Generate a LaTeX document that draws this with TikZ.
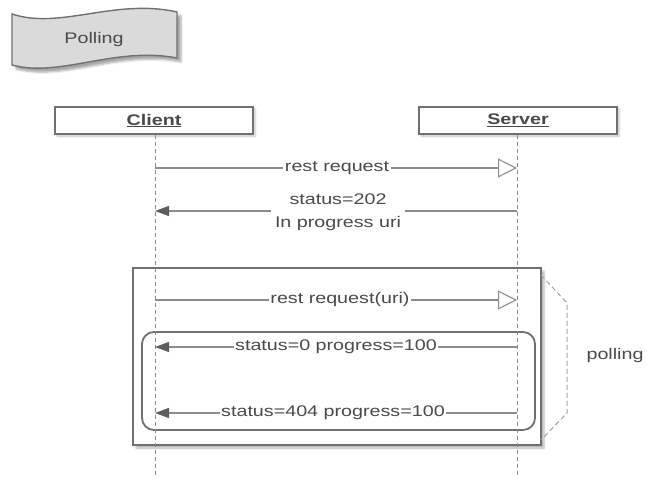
\documentclass[tikz,border=0pt]{standalone}
\usepackage{fontspec}
\setmainfont{Liberation Sans}[FakeStretch=1.28]
\usetikzlibrary{arrows.meta,shadows.blur}
\definecolor{ink}{HTML}{4A4A4A}
\definecolor{wire}{HTML}{8C8C8C}
\definecolor{frame}{HTML}{707070}
\definecolor{paper}{HTML}{DADADA}
\begin{document}
\begin{tikzpicture}[x=1pt,y=-1pt,
  txt/.style={font=\fontsize{15.4}{18}\selectfont, text=ink},
  lbl/.style={txt, fill=white, inner sep=1.5pt},
  actor/.style={draw=frame, line width=1.3pt, fill=white, minimum width=198pt, minimum height=27pt, txt, blur shadow={shadow xshift=2pt, shadow yshift=-2pt, shadow opacity=25, shadow blur steps=4}},
  lifeline/.style={draw=wire, line width=0.9pt, dash pattern=on 4pt off 3pt},
  callmsg/.style={draw=wire, line width=1.1pt, -{Triangle[open, length=19pt, width=19pt, line width=1.1pt]}},
  replymsg/.style={draw=wire, line width=1.1pt, -{Triangle[length=14pt, width=10pt, color=ink!90]}},
]
\useasboundingbox (0,0) rectangle (647,478);

% banner
\path[fill=paper, draw=frame, line width=1.4pt, blur shadow={shadow xshift=4pt, shadow yshift=-4pt, shadow opacity=35}]
  (12,14) .. controls (60,30) and (115,-2) .. (177,12)
  -- (177,58) .. controls (115,46) and (60,78) .. (12,65) -- cycle;
\node[txt] (title) at (94,40) {Polling};

% loop frame (white body with shadow, under the lifelines)
\draw[draw=frame, line width=2.6pt, fill=white, blur shadow={shadow xshift=3pt, shadow yshift=-3pt, shadow opacity=30}]
  (133,268) rectangle (541,445);
\draw[draw=frame, line width=1.8pt, rounded corners=12pt] (142,332) rectangle (535,430);

% participants
\node[actor] (client) at (154,120.5) {\underline{\textbf{Client}}};
\node[actor] (server) at (518,120.5) {\underline{\textbf{Server}}};
\coordinate (cend) at (155,478);
\coordinate (send) at (517,478);
\draw[lifeline] (client.south -| cend) -- (cend);
\draw[lifeline] (server.south -| send) -- (send);

% bracket and its label
\coordinate (b1) at (541,275);
\coordinate (b2) at (567,303);
\coordinate (b3) at (567,413);
\coordinate (b4) at (541,440);
\draw[draw=wire!80, line width=1pt, dash pattern=on 5pt off 3pt] (b1) -- (b2) -- (b3) -- (b4);
\node[txt, anchor=west] (plabel) at (583,356) {polling};

% messages
\coordinate (c1) at (155,168); \coordinate (s1) at (517,168);
\coordinate (c2) at (155,211); \coordinate (s2) at (517,211);
\coordinate (c3) at (155,300); \coordinate (s3) at (517,300);
\coordinate (c4) at (155,347); \coordinate (s4) at (517,347);
\coordinate (c5) at (155,413); \coordinate (s5) at (517,413);

\draw[callmsg] (c1) -- (s1);
\node[lbl] (m1) at (337,168) {rest request};

\draw[replymsg] (s2) -- (c2);
\node[lbl, font=\fontsize{15.4}{23}\selectfont, align=center, inner xsep=4pt] (m2) at (338,212) {status=202\\In progress uri};

\draw[callmsg] (c3) -- (s3);
\node[lbl] (m3) at (340,300) {rest request(uri)};

\draw[replymsg] (s4) -- (c4);
\node[lbl] (m4) at (336,347) {status=0 progress=100};

\draw[replymsg] (s5) -- (c5);
\node[lbl] (m5) at (333,413) {status=404 progress=100};
\end{tikzpicture}
\end{document}
